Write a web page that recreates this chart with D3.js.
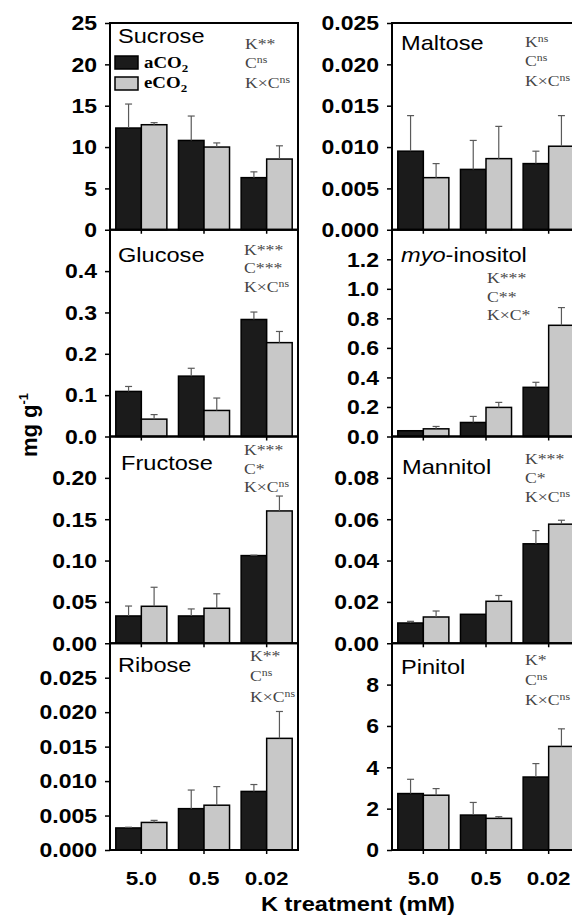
<!DOCTYPE html>
<html>
<head>
<meta charset="utf-8">
<script src="https://cdn.jsdelivr.net/npm/d3@7"></script>
<style>
  body { margin: 0; background: #fff; }
  svg { display: block; }
</style>
</head>
<body>
<svg id="fig" width="572" height="918"></svg>
<script>
// ---- data: K treatment levels and CO2 treatments ----
const kLevels = ["5.0", "0.5", "0.02"];
const co2Levels = ["aCO2", "eCO2"];

// means and standard errors (mg g-1), ordered as kLevels
const sucroseA = [12.3, 10.8, 6.3],        sucroseASe = [2.9, 2.95, 0.7];
const sucroseE = [12.7, 10.0, 8.55],       sucroseESe = [0.25, 0.5, 1.6];
const maltoseA = [0.0095, 0.0073, 0.0080], maltoseASe = [0.0043, 0.0035, 0.0015];
const maltoseE = [0.0063, 0.0086, 0.0101], maltoseESe = [0.0017, 0.0039, 0.0037];
const glucoseA = [0.109, 0.146, 0.283],    glucoseASe = [0.012, 0.019, 0.018];
const glucoseE = [0.042, 0.063, 0.227],    glucoseESe = [0.011, 0.030, 0.027];
const inositolA = [0.039, 0.095, 0.333],   inositolASe = [0, 0.041, 0.034];
const inositolE = [0.052, 0.197, 0.753],   inositolESe = [0.016, 0.034, 0.12];
const fructoseA = [0.033, 0.033, 0.106],   fructoseASe = [0.012, 0.0085, 0.0005];
const fructoseE = [0.0447, 0.0423, 0.160], fructoseESe = [0.023, 0.0175, 0.018];
const mannitolA = [0.0098, 0.0140, 0.0481], mannitolASe = [0.0008, 0, 0.0064];
const mannitolE = [0.0127, 0.0203, 0.0576], mannitolESe = [0.0029, 0.0028, 0.0019];
const riboseA = [0.0032, 0.0060, 0.0085],  riboseASe = [0.0001, 0.0027, 0.0010];
const riboseE = [0.0040, 0.0065, 0.0162],  riboseESe = [0.0003, 0.0027, 0.0039];
const pinitolA = [2.73, 1.69, 3.53],       pinitolASe = [0.69, 0.61, 0.65];
const pinitolE = [2.65, 1.53, 5.01],       pinitolESe = [0.32, 0.08, 0.85];

// y tick values shown on each panel
const sucroseTicks = [0, 5, 10, 15, 20, 25];
const maltoseTicks = [0, 0.005, 0.010, 0.015, 0.020, 0.025];
const glucoseTicks = [0, 0.1, 0.2, 0.3, 0.4];
const inositolTicks = [0, 0.2, 0.4, 0.6, 0.8, 1.0, 1.2];
const fructoseTicks = [0, 0.05, 0.10, 0.15, 0.20];
const mannitolTicks = [0, 0.02, 0.04, 0.06, 0.08];
const riboseTicks = [0, 0.005, 0.010, 0.015, 0.020, 0.025];
const pinitolTicks = [0, 2, 4, 6, 8];

// two-way ANOVA significance labels
const sucroseStats = ["K**", "C^ns", "K×C^ns"];
const maltoseStats = ["K^ns", "C^ns", "K×C^ns"];
const glucoseStats = ["K***", "C***", "K×C^ns"];
const inositolStats = ["K***", "C**", "K×C*"];
const fructoseStats = ["K***", "C*", "K×C^ns"];
const mannitolStats = ["K***", "C*", "K×C^ns"];
const riboseStats = ["K**", "C^ns", "K×C^ns"];
const pinitolStats = ["K*", "C^ns", "K×C^ns"];

// ---- panel definitions ----
const panels = [
  { title: "Sucrose", col: 0, row: 0, max: 25, ticks: sucroseTicks, fmt: "d",
    a: sucroseA, aSe: sucroseASe, e: sucroseE, eSe: sucroseESe, stats: sucroseStats,
    titlePos: [118, 43], statsX: 245, statsY: [49, 68, 88] },
  { title: "Maltose", col: 1, row: 0, max: 0.025, ticks: maltoseTicks, fmt: ".3f",
    a: maltoseA, aSe: maltoseASe, e: maltoseE, eSe: maltoseESe, stats: maltoseStats,
    titlePos: [401, 50], statsX: 525, statsY: [47, 66, 86] },
  { title: "Glucose", col: 0, row: 1, max: 0.5, ticks: glucoseTicks, fmt: ".1f",
    a: glucoseA, aSe: glucoseASe, e: glucoseE, eSe: glucoseESe, stats: glucoseStats,
    titlePos: [118, 262], statsX: 244, statsY: [255, 273, 292] },
  { title: "myo-inositol", col: 1, row: 1, max: 1.4, ticks: inositolTicks, fmt: ".1f",
    a: inositolA, aSe: inositolASe, e: inositolE, eSe: inositolESe, stats: inositolStats,
    titlePos: [401, 262], statsX: 487, statsY: [283, 302, 320] },
  { title: "Fructose", col: 0, row: 2, max: 0.25, ticks: fructoseTicks, fmt: ".2f",
    a: fructoseA, aSe: fructoseASe, e: fructoseE, eSe: fructoseESe, stats: fructoseStats,
    titlePos: [121, 470], statsX: 244, statsY: [455, 474, 492] },
  { title: "Mannitol", col: 1, row: 2, max: 0.1, ticks: mannitolTicks, fmt: ".2f",
    a: mannitolA, aSe: mannitolASe, e: mannitolE, eSe: mannitolESe, stats: mannitolStats,
    titlePos: [402, 474], statsX: 525, statsY: [464, 483, 502] },
  { title: "Ribose", col: 0, row: 3, max: 0.03, ticks: riboseTicks, fmt: ".3f",
    a: riboseA, aSe: riboseASe, e: riboseE, eSe: riboseESe, stats: riboseStats,
    titlePos: [118, 672], statsX: 250, statsY: [661, 681, 702] },
  { title: "Pinitol", col: 1, row: 3, max: 10, ticks: pinitolTicks, fmt: "d",
    a: pinitolA, aSe: pinitolASe, e: pinitolE, eSe: pinitolESe, stats: pinitolStats,
    titlePos: [401, 674], statsX: 525, statsY: [665, 685, 705] }
];

// ---- layout & style ----
const W = 572, H = 918;
const colLeft = [110, 392], plotW = 188, top0 = 23, plotH = 206.75;
const SX = 1.18; // horizontal widening applied to the lettering
const sans = "'Liberation Sans', Arial, Helvetica, sans-serif";
const serif = "'Liberation Serif', 'Times New Roman', Times, serif";
const BLACK = "#1b1b1b", GRAY = "#c8c8c8", ERR = "#5a5a5a", STAT = "#444";

const svg = d3.select("#fig");
svg.append("rect").attr("width", W).attr("height", H).attr("fill", "#fff");

const x0 = d3.scaleBand().domain(kLevels).range([0, plotW]);
const x1 = d3.scaleBand().domain(co2Levels).range([5.8, x0.bandwidth() - 5.8]);

function drawStats(lines, x, ys) {
  lines.forEach((s, i) => {
    const [base, sup] = s.split("^");
    const t = svg.append("text")
      .attr("transform", `translate(${x},${ys[i]}) scale(${SX},1)`)
      .attr("font-family", serif).attr("font-size", 15).attr("fill", STAT);
    t.append("tspan").text(base);
    if (sup) t.append("tspan").attr("font-size", 10).attr("dy", -5).text(sup);
  });
}

panels.forEach(p => {
  const gx = colLeft[p.col], gy = top0 + p.row * plotH;
  const g = svg.append("g").attr("transform", `translate(${gx},${gy})`);
  const y = d3.scaleLinear().domain([0, p.max]).range([plotH, 0]);

  const rows = kLevels.flatMap((k, i) => [
    { k, c: "aCO2", v: p.a[i], se: p.aSe[i] },
    { k, c: "eCO2", v: p.e[i], se: p.eSe[i] }
  ]);

  // bars
  g.selectAll("rect.bar").data(rows).join("rect")
    .attr("class", "bar")
    .attr("x", d => x0(d.k) + x1(d.c))
    .attr("width", x1.bandwidth())
    .attr("y", d => y(d.v))
    .attr("height", d => plotH - y(d.v))
    .attr("fill", d => d.c === "aCO2" ? BLACK : GRAY)
    .attr("stroke", "#000").attr("stroke-width", 1.5);

  // upper error bars
  const eb = g.selectAll("g.err").data(rows.filter(d => d.se > 0)).join("g").attr("class", "err")
    .attr("stroke", ERR).attr("stroke-width", 1.2);
  eb.append("line")
    .attr("x1", d => x0(d.k) + x1(d.c) + x1.bandwidth() / 2)
    .attr("x2", d => x0(d.k) + x1(d.c) + x1.bandwidth() / 2)
    .attr("y1", d => y(d.v)).attr("y2", d => y(d.v + d.se));
  eb.append("line")
    .attr("x1", d => x0(d.k) + x1(d.c) + x1.bandwidth() / 2 - 3.5)
    .attr("x2", d => x0(d.k) + x1(d.c) + x1.bandwidth() / 2 + 3.5)
    .attr("y1", d => y(d.v + d.se)).attr("y2", d => y(d.v + d.se));

  // frame
  g.append("rect").attr("width", plotW).attr("height", plotH)
    .attr("fill", "none").attr("stroke", "#000").attr("stroke-width", 2);

  // y axis
  const ya = g.append("g").call(
    d3.axisLeft(y).tickValues(p.ticks).tickFormat(d3.format(p.fmt)).tickSize(5));
  ya.select(".domain").remove();
  ya.selectAll("line").attr("stroke", "#000").attr("stroke-width", 1.5);
  ya.selectAll("text")
    .attr("font-family", sans).attr("font-weight", "bold").attr("font-size", 19.5)
    .attr("fill", "#000").attr("x", -13 / SX).attr("dy", "0.35em")
    .attr("transform", `scale(${SX},1)`);

  // x axis ticks (labels on the bottom row only)
  const xa = g.append("g").attr("transform", `translate(0,${plotH})`)
    .call(d3.axisBottom(x0).tickSize(4).tickFormat(p.row === 3 ? d => d : () => ""));
  xa.select(".domain").remove();
  xa.selectAll("line").attr("stroke", "#000").attr("stroke-width", 1.5);
  xa.selectAll("text")
    .attr("font-family", sans).attr("font-weight", "bold").attr("font-size", 19)
    .attr("fill", "#000").attr("y", 35).attr("dy", 0)
    .attr("transform", `scale(${SX},1)`);

  // panel title
  const tt = svg.append("text")
    .attr("transform", `translate(${p.titlePos[0]},${p.titlePos[1]}) scale(${SX},1)`)
    .attr("font-family", sans).attr("font-size", 20).attr("fill", "#000");
  if (p.title.startsWith("myo-")) {
    tt.append("tspan").attr("font-style", "italic").text("myo");
    tt.append("tspan").text(p.title.slice(3));
  } else {
    tt.text(p.title);
  }

  drawStats(p.stats, p.statsX, p.statsY);
});

// legend inside the Sucrose panel
const legend = svg.append("g");
co2Levels.forEach((c, i) => {
  legend.append("rect")
    .attr("x", 115).attr("y", 56 + i * 21).attr("width", 23).attr("height", 13)
    .attr("fill", i === 0 ? BLACK : GRAY).attr("stroke", "#000").attr("stroke-width", 1.5);
  const t = legend.append("text")
    .attr("transform", `translate(144,${68 + i * 20}) scale(${SX},1)`)
    .attr("font-family", serif).attr("font-weight", "bold").attr("font-size", 16).attr("fill", "#000");
  t.append("tspan").text(c.slice(0, 3));
  t.append("tspan").attr("font-size", 11).attr("dy", 4).text(c.slice(3));
});

// y axis title
const yl = svg.append("text")
  .attr("transform", "translate(37,425) rotate(-90)")
  .attr("text-anchor", "middle")
  .attr("font-family", sans).attr("font-weight", "bold").attr("font-size", 22).attr("fill", "#000");
yl.append("tspan").text("mg g");
yl.append("tspan").attr("font-size", 13).attr("dy", -9).text("-1");

// x axis title
svg.append("text")
  .attr("transform", `translate(358,911) scale(${SX},1)`)
  .attr("text-anchor", "middle")
  .attr("font-family", sans).attr("font-weight", "bold").attr("font-size", 20).attr("fill", "#000")
  .text("K treatment (mM)");
</script>
</body>
</html>
